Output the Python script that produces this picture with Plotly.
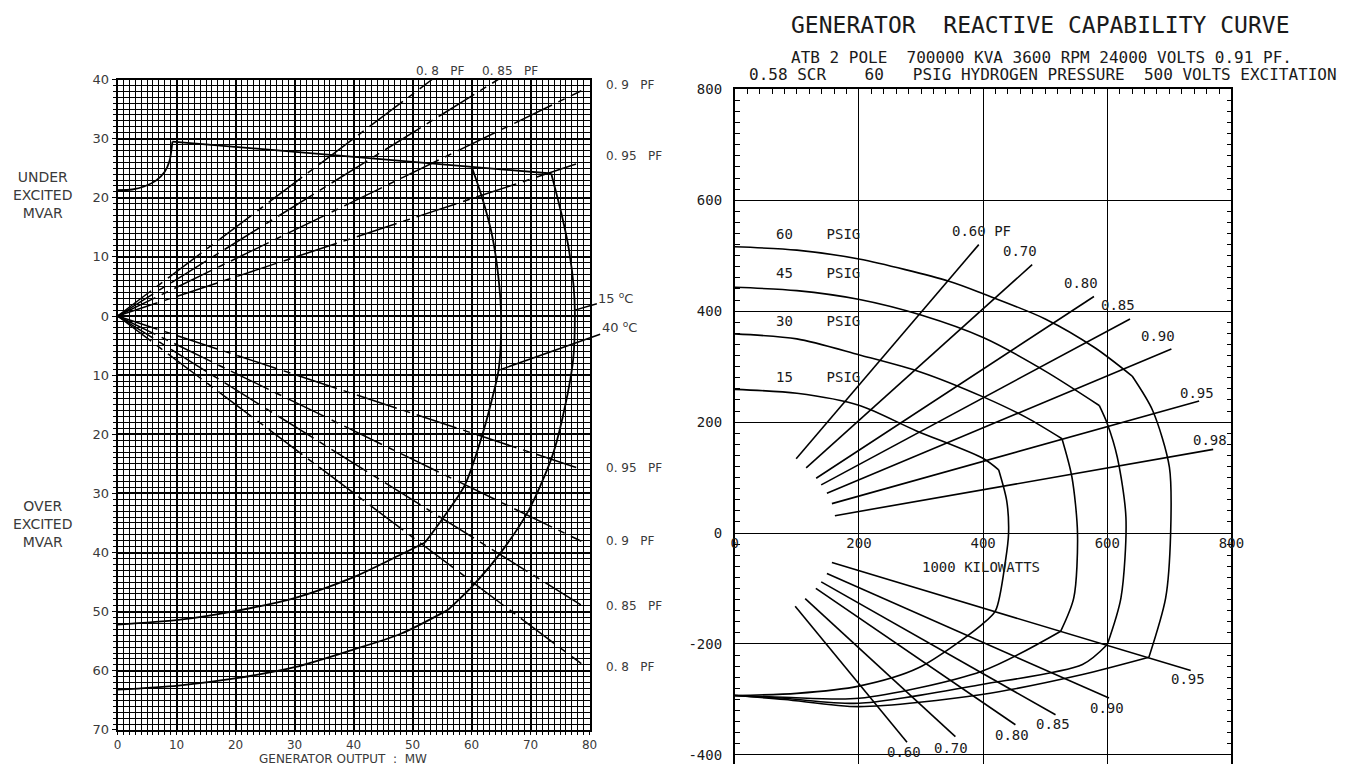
import plotly.graph_objects as go

# figure canvas (pixels)
FW, FH = 1362, 782

# ---------------- left chart: 80 MW unit, MW against MVAR ----------------
# leading (under-excited) limit, shared by both cooling-air ratings
uel_rise_p = [0, 2.5, 4.5, 6.5, 8.0, 8.8, 9.3]
uel_rise_q = [21.3, 21.4, 21.9, 22.9, 24.4, 26.2, 29.5]
uel_top_p = [9.3, 60.0, 73.5]
uel_top_q = [29.5, 25.3, 24.1]

# stator / rotor limits at 40 degC cooling air
arc40_p = [60.0, 61.7, 63.4, 64.5, 65.0, 64.6, 63.4, 61.7, 58.9, 55.2, 52.1]
arc40_q = [25.3, 20.3, 14.0, 7.0, 0.0, -9.0, -14.3, -20.5, -28.5, -34.1, -38.3]
oel40_p = [52.1, 48.1, 39.7, 30.0, 19.9, 10.3, 0.0]
oel40_q = [-38.3, -40.3, -44.3, -47.7, -49.9, -51.4, -52.2]

# stator / rotor limits at 15 degC cooling air
arc15_p = [73.5, 75.3, 76.4, 77.3, 77.5, 77.2, 75.3, 73.6, 69.6, 65.1, 60.3, 56.0]
arc15_q = [24.1, 17.0, 11.8, 5.0, 0.5, -7.5, -17.7, -23.9, -33.0, -39.8, -45.5, -49.7]
oel15_p = [56.0, 48.1, 39.7, 30.0, 19.9, 10.3, 0.0]
oel15_q = [-49.7, -53.7, -56.5, -59.4, -61.3, -62.5, -63.2]

# constant power-factor rays from the origin (end points)
pf_left_names = ["0. 8", "0. 85", "0. 9", "0. 95"]
pf_under_end_p = [53.3, 64.5, 78.6, 78.6]
pf_under_end_q = [40.0, 40.0, 38.1, 26.0]
pf_over_end_p = [78.6, 78.6, 78.6, 78.6]
pf_over_end_q = [-58.8, -48.9, -38.1, -25.9]

left_yticks = list(range(-70, 41, 10))

# ---------------- right chart: 700 MVA unit, 1000 kW against 1000 kVAR ----------------
psig_names = ["60", "45", "30", "15"]

# rotor (field) heating limits
field60_p = [0, 100, 200, 345, 401, 500, 580, 640]
field60_q = [516, 510, 494, 454, 431, 386, 334, 283]
field45_p = [0, 100, 201, 300, 401, 500, 587]
field45_q = [443, 437, 421, 393, 352, 292, 230]
field30_p = [0, 100, 201, 300, 401, 470, 527]
field30_q = [359, 350, 321, 290, 245, 208, 170]
field15_p = [0, 100, 201, 291, 401, 425]
field15_q = [259, 252, 230, 185, 134, 114]

# armature (stator) heating limits
arm60_p = [640, 673, 700, 702, 694, 667]
arm60_q = [283, 221, 119, 0, -117, -224]
arm45_p = [587, 600, 616, 630, 622, 600]
arm45_q = [230, 197, 137, 28, -117, -201]
arm30_p = [527, 543, 552, 546, 525]
arm30_q = [170, 101, 0, -117, -177]
arm15_p = [425, 438, 441, 436, 420]
arm15_q = [114, 58, 0, -50, -140]

# core-end heating limits (leading)
uel60_p = [667, 560, 398, 200, 80, 0]
uel60_q = [-224, -255, -291, -313, -300, -293]
uel45_p = [600, 560, 398, 200, 80, 0]
uel45_q = [-201, -237, -273, -307, -298, -293]
uel30_p = [525, 398, 200, 80, 0]
uel30_q = [-177, -249, -298, -296, -293]
uel15_p = [420, 398, 296, 200, 100, 0]
uel15_q = [-140, -165, -243, -276, -289, -293]

# power-factor rays, lagging side
pf_lag_names = ["0.60 PF", "0.70", "0.80", "0.85", "0.90", "0.95", "0.98"]
pf_lag_p0 = [98.9, 115.0, 131.1, 139.2, 148.4, 156.5, 161.3]
pf_lag_q0 = [133.9, 117.6, 98.8, 86.9, 71.7, 53.0, 31.3]
pf_lag_p1 = [393.0, 479.0, 578.5, 636.6, 703.2, 747.9, 770.5]
pf_lag_q1 = [520.0, 483.8, 426.4, 386.0, 331.8, 238.2, 150.8]
pf_lag_lbl_p = [397, 459, 558, 617, 682, 744, 766]
pf_lag_lbl_q = [544, 508, 451, 411, 355, 253, 167]

# power-factor rays, leading side
pf_lead_names = ["0.60", "0.70", "0.80", "0.85", "0.90", "0.95"]
pf_lead_p0 = [97.3, 113.4, 130.6, 139.2, 148.4, 156.5]
pf_lead_q0 = [-132.0, -118.3, -99.8, -88.1, -73.1, -53.2]
pf_lead_p1 = [277.4, 355.3, 452.0, 516.6, 602.7, 734.4]
pf_lead_q1 = [-377.2, -366.9, -345.7, -327.6, -297.5, -248.0]
pf_lead_lbl_p = [272, 349, 447, 513, 599, 730]
pf_lead_lbl_q = [-394, -387, -364, -345, -316, -264]

right_yticks = [800, 600, 400, 200, 0, -200, -400]
right_xticks = [0, 200, 400, 600, 800]

# ---------------- layout geometry (canvas pixels) ----------------
L_X0, L_X1, L_Y0, L_Y1 = 115, 593, 73, 737      # left plot box
R_X0, R_X1, R_Y0 = 740, 1243, 83                 # right plot box, open at the bottom
R_ZERO_PX = 536                                  # row of the right chart's zero line
R_YMAX = 800
R_PX_PER_UNIT = (R_ZERO_PX - R_Y0) / R_YMAX
R_YMIN = R_YMAX - (FH - R_Y0) / R_PX_PER_UNIT


def px_x(px):
    return px / FW


def px_y(py):
    return (FH - py) / FH


INK = "black"
GREY_TXT = "#3a3a3a"
LEFT_FONT = dict(family="DejaVu Sans", size=12, color=GREY_TXT)
RIGHT_FONT = dict(family="DejaVu Sans Mono", size=14, color="#1a1a1a")

fig = go.Figure()


def line(xs, ys, xa="x", ya="y", shape="linear", width=1.6, dash=None):
    fig.add_trace(go.Scatter(
        x=xs, y=ys, mode="lines", xaxis=xa, yaxis=ya,
        line=dict(color=INK, width=width, shape=shape, smoothing=0.8, dash=dash),
        hoverinfo="skip", showlegend=False))


# ---- left chart curves ----
DASH = "42px,7px,7px,7px"
for p1, q1 in zip(pf_under_end_p, pf_under_end_q):
    line([0, p1], [0, q1], width=1.5, dash=DASH)
for p1, q1 in zip(pf_over_end_p, pf_over_end_q):
    line([0, p1], [0, q1], width=1.5, dash=DASH)

line(uel_rise_p, uel_rise_q, shape="spline", width=1.8)
line(uel_top_p, uel_top_q, width=1.8)
line(arc40_p, arc40_q, shape="spline", width=1.8)
line(oel40_p, oel40_q, shape="spline", width=1.8)
line(arc15_p, arc15_q, shape="spline", width=1.8)
line(oel15_p, oel15_q, shape="spline", width=1.8)

# ---- right chart curves ----
for fp, fq in [(field60_p, field60_q), (field45_p, field45_q),
               (field30_p, field30_q), (field15_p, field15_q)]:
    line(fp, fq, "x2", "y2", "spline")
for ap, aq in [(arm60_p, arm60_q), (arm45_p, arm45_q), (arm30_p, arm30_q)]:
    line(ap, aq, "x2", "y2", "spline")
for up, uq in [(uel60_p, uel60_q), (uel45_p, uel45_q), (uel30_p, uel30_q)]:
    line(up, uq, "x2", "y2", "spline")
line(arm15_p + uel15_p[1:], arm15_q + uel15_q[1:], "x2", "y2", "spline")

for a, b, c, d in zip(pf_lag_p0, pf_lag_q0, pf_lag_p1, pf_lag_q1):
    line([a, c], [b, d], "x2", "y2")
for a, b, c, d in zip(pf_lead_p0, pf_lead_q0, pf_lead_p1, pf_lead_q1):
    line([a, c], [b, d], "x2", "y2")

# carrier for the value labels along the zero line of the right chart
fig.add_trace(go.Scatter(x=[0], y=[0], xaxis="x3", yaxis="y2", mode="markers",
                         marker=dict(opacity=0), hoverinfo="skip", showlegend=False))

# ---------------- axes ----------------
left_dom_x = [px_x(L_X0), px_x(L_X1)]
left_dom_y = [px_y(L_Y1), px_y(L_Y0)]
right_dom_x = [px_x(R_X0), px_x(R_X1)]
right_dom_y = [0.0, px_y(R_Y0)]
zero_pos = px_y(R_ZERO_PX)

fig.update_layout(
    width=FW, height=FH, margin=dict(l=0, r=0, t=0, b=0),
    paper_bgcolor="white", plot_bgcolor="white", showlegend=False,
    xaxis=dict(
        domain=left_dom_x, range=[0, 80], anchor="y",
        tickmode="linear", tick0=0, dtick=10,
        showgrid=True, gridcolor=INK, gridwidth=2.4,
        minor=dict(dtick=1, showgrid=True, gridcolor=INK, gridwidth=1,
                   ticks="outside", ticklen=3, tickcolor=INK),
        ticks="outside", ticklen=3, tickcolor=INK,
        showline=True, linecolor=INK, linewidth=2, mirror=True, zeroline=False,
        tickfont=dict(family="DejaVu Sans", size=12, color=GREY_TXT),
    ),
    yaxis=dict(
        domain=left_dom_y, range=[-70, 40], anchor="x",
        tickmode="array", tickvals=left_yticks,
        ticktext=[str(abs(v)) for v in left_yticks],
        showgrid=True, gridcolor=INK, gridwidth=2.4,
        minor=dict(tickmode="linear", tick0=0, dtick=1, showgrid=True, gridcolor=INK,
                   gridwidth=1, ticks="outside", ticklen=3, tickcolor=INK),
        ticks="outside", ticklen=4, tickcolor=INK,
        showline=True, linecolor=INK, linewidth=2, mirror=True, zeroline=False,
        tickfont=dict(family="DejaVu Sans", size=13, color=GREY_TXT),
    ),
    xaxis2=dict(
        domain=right_dom_x, range=[0, 800], anchor="y2", side="top",
        tickmode="array", tickvals=right_xticks, showticklabels=False,
        showgrid=True, gridcolor=INK, gridwidth=1.2,
        minor=dict(tickmode="linear", tick0=0, dtick=20, ticks="inside",
                   ticklen=5, tickcolor=INK, showgrid=False),
        ticks="inside", ticklen=6, tickcolor=INK,
        showline=True, linecolor=INK, linewidth=1.6, mirror=False, zeroline=False,
    ),
    xaxis3=dict(
        overlaying="x2", anchor="free", position=zero_pos, range=[0, 800],
        tickmode="array", tickvals=right_xticks, ticktext=[str(v) for v in right_xticks],
        showgrid=False, showline=False, zeroline=False, ticks="",
        tickfont=RIGHT_FONT,
    ),
    yaxis2=dict(
        domain=right_dom_y, range=[R_YMIN, R_YMAX], anchor="x2",
        tickmode="array", tickvals=right_yticks,
        ticktext=[str(v) for v in right_yticks],
        showgrid=True, gridcolor=INK, gridwidth=1.2,
        minor=dict(tickmode="linear", tick0=0, dtick=20, ticks="inside",
                   ticklen=5, tickcolor=INK, showgrid=False),
        ticks="inside", ticklen=6, tickcolor=INK, ticklabelstandoff=8,
        showline=True, linecolor=INK, linewidth=1.6, mirror="ticks", zeroline=False,
        tickfont=RIGHT_FONT,
    ),
)

ann = []

# ---- left chart texts ----
ann.append(dict(text="GENERATOR OUTPUT  :  MW", xref="paper", yref="paper",
                x=px_x(343), y=px_y(767), xanchor="center", yanchor="middle",
                showarrow=False, font=dict(family="DejaVu Sans", size=12, color=GREY_TXT)))

for txt, yc in [("UNDER<br>EXCITED<br>MVAR", 191), ("OVER<br>EXCITED<br>MVAR", 527)]:
    ann.append(dict(text=txt, xref="paper", yref="paper", x=px_x(39), y=px_y(yc),
                    xanchor="center", yanchor="middle", showarrow=False,
                    font=dict(family="DejaVu Sans", size=14, color=GREY_TXT),
                    align="center"))

lab_x = (608 - L_X0) / (L_X1 - L_X0)
for name, q in zip(pf_left_names[2:], [39.0, 27.0]):
    ann.append(dict(text=name + "   PF", xref="x domain", yref="y", x=lab_x, y=q,
                    xanchor="left", yanchor="middle", showarrow=False, font=LEFT_FONT))
for name, q in zip(pf_left_names, [-59.4, -49.0, -38.0, -25.7]):
    ann.append(dict(text=name + "   PF", xref="x domain", yref="y", x=lab_x, y=q,
                    xanchor="left", yanchor="middle", showarrow=False, font=LEFT_FONT))
for name, p in zip(pf_left_names[:2], [50.2, 61.4]):
    ann.append(dict(text=name + "   PF", xref="x", yref="y domain", x=p, y=1.0,
                    xanchor="left", yanchor="bottom", yshift=0, showarrow=False,
                    font=LEFT_FONT))

# cooling-air temperature tags with leaders
ann.append(dict(text="15 <sup>o</sup>C", xref="x", yref="y", x=77.5, y=1.0,
                ax=41, ay=-12, showarrow=True, arrowhead=0, arrowwidth=1.5,
                arrowcolor=INK, font=dict(family="DejaVu Sans", size=13, color=GREY_TXT)))
ann.append(dict(text="40 <sup>o</sup>C", xref="x", yref="y", x=64.5, y=-9.2,
                ax=121, ay=-43, showarrow=True, arrowhead=0, arrowwidth=1.5,
                arrowcolor=INK, font=dict(family="DejaVu Sans", size=13, color=GREY_TXT)))

# ---- right chart texts ----
for name, q in zip(psig_names, [539, 468, 383, 282]):
    ann.append(dict(text=name + "    PSIG", xref="x2", yref="y2", x=63, y=q,
                    xanchor="left", yanchor="middle", showarrow=False, font=RIGHT_FONT))
for name, p, q in zip(pf_lag_names, pf_lag_lbl_p, pf_lag_lbl_q):
    ann.append(dict(text=name, xref="x2", yref="y2", x=p, y=q,
                    xanchor="center", yanchor="middle", showarrow=False, font=RIGHT_FONT))
for name, p, q in zip(pf_lead_names, pf_lead_lbl_p, pf_lead_lbl_q):
    ann.append(dict(text=name, xref="x2", yref="y2", x=p, y=q,
                    xanchor="center", yanchor="middle", showarrow=False, font=RIGHT_FONT))
ann.append(dict(text="1000 KILOWATTS", xref="x2", yref="y2", x=397, y=-62,
                xanchor="center", yanchor="middle", showarrow=False, font=RIGHT_FONT))

HEAD_FONT = "DejaVu Sans Mono"
ann.append(dict(text="GENERATOR  REACTIVE CAPABILITY CURVE", xref="paper", yref="paper",
                x=px_x(1050), y=px_y(17), xanchor="center", yanchor="middle",
                showarrow=False, font=dict(family=HEAD_FONT, size=23, color="#1a1a1a")))
ann.append(dict(text="ATB 2 POLE  700000 KVA 3600 RPM 24000 VOLTS 0.91 PF.",
                xref="paper", yref="paper", x=px_x(1051), y=px_y(51),
                xanchor="center", yanchor="middle", showarrow=False,
                font=dict(family=HEAD_FONT, size=16, color="#1a1a1a")))
ann.append(dict(text="0.58 SCR    60   PSIG HYDROGEN PRESSURE  500 VOLTS EXCITATION",
                xref="paper", yref="paper", x=px_x(1052), y=px_y(68),
                xanchor="center", yanchor="middle", showarrow=False,
                font=dict(family=HEAD_FONT, size=16, color="#1a1a1a")))

fig.update_layout(annotations=ann)

fig.write_html("out.html")
